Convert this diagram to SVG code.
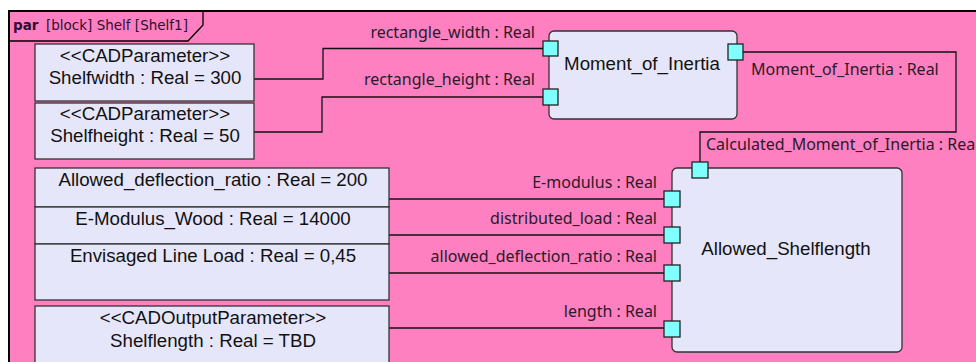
<svg xmlns="http://www.w3.org/2000/svg" width="976" height="362" viewBox="0 0 976 362">
<style>
.frame{fill:#FF80C0;stroke:#000;stroke-width:2}
.box{fill:#E6E6FA;stroke:#333;stroke-width:1.3}
.blk{fill:#E6E6FA;stroke:#333;stroke-width:1.3}
.port{fill:#80FFFF;stroke:#222;stroke-width:1.3}
.wire{fill:none;stroke:#111;stroke-width:1.3}
.t{font-family:"Liberation Sans",Arial,sans-serif;font-size:18.7px;fill:#111;text-anchor:middle}
.l{font-family:"Noto Sans","Open Sans",sans-serif;font-size:16px;fill:#2a1a2a}
.h{font-family:"DejaVu Sans","Noto Sans",sans-serif;font-size:13.5px;fill:#2a1030}
</style>
<rect width="976" height="362" fill="#fff"/>
<g id="frame">
<rect class="frame" x="9" y="11" width="980" height="370"/>
<path d="M9 41 H188 L203 25 V11" fill="none" stroke="#000" stroke-width="1.3"/>
<text class="h" x="13" y="30" font-weight="bold" font-size="15" fill="#000">par</text>
<text class="h" x="46" y="30">[block] Shelf [Shelf1]</text>
</g>
<g id="connectors">
<path class="wire" d="M254 79 H323 V48.5 H543"/>
<path class="wire" d="M254 132 H322 V97 H543"/>
<path class="wire" d="M743 52 H956 V132 H700 V162"/>
<path class="wire" d="M389 199 H664"/>
<path class="wire" d="M389 235 H664"/>
<path class="wire" d="M389 273 H664"/>
<path class="wire" d="M389 328 H664"/>
<text class="l" x="535" y="38" text-anchor="end">rectangle_width : Real</text>
<text class="l" x="535" y="85" text-anchor="end">rectangle_height : Real</text>
<text class="l" x="751" y="75">Moment_of_Inertia : Real</text>
<text class="l" x="706" y="150">Calculated_Moment_of_Inertia : Real</text>
<text class="l" x="657" y="188" text-anchor="end">E-modulus : Real</text>
<text class="l" x="657" y="224" text-anchor="end">distributed_load : Real</text>
<text class="l" x="657" y="262" text-anchor="end">allowed_deflection_ratio : Real</text>
<text class="l" x="657" y="317" text-anchor="end">length : Real</text>
</g>
<g id="shelfwidth">
<rect class="box" x="35" y="44" width="219" height="57"/>
<text class="t" x="145" y="62">&lt;&lt;CADParameter&gt;&gt;</text>
<text class="t" x="145" y="84">Shelfwidth : Real = 300</text>
</g>
<g id="shelfheight">
<rect class="box" x="35" y="103" width="219" height="56"/>
<text class="t" x="145" y="120">&lt;&lt;CADParameter&gt;&gt;</text>
<text class="t" x="145" y="142">Shelfheight : Real = 50</text>
</g>
<g id="allowed_deflection_ratio">
<rect class="box" x="35" y="168" width="354" height="39"/>
<text class="t" x="213" y="186">Allowed_deflection_ratio : Real = 200</text>
</g>
<g id="e_modulus_wood">
<rect class="box" x="35" y="207" width="354" height="37"/>
<text class="t" x="213" y="225">E-Modulus_Wood : Real = 14000</text>
</g>
<g id="envisaged_line_load">
<rect class="box" x="35" y="244" width="354" height="56"/>
<text class="t" x="213" y="262">Envisaged Line Load : Real = 0,45</text>
</g>
<g id="shelflength">
<rect class="box" x="35" y="306" width="354" height="70"/>
<text class="t" x="213" y="324">&lt;&lt;CADOutputParameter&gt;&gt;</text>
<text class="t" x="213" y="347">Shelflength : Real = TBD</text>
</g>
<g id="moment_of_inertia">
<rect class="blk" x="549" y="31" width="188" height="88" rx="5"/>
<text class="t" x="642" y="70">Moment_of_Inertia</text>
<rect class="port" x="543" y="41" width="15" height="15"/>
<rect class="port" x="543" y="89" width="15" height="16"/>
<rect class="port" x="728" y="44" width="15" height="16"/>
</g>
<g id="allowed_shelflength">
<rect class="blk" x="672" y="168" width="230" height="184" rx="5"/>
<text class="t" x="786" y="255">Allowed_Shelflength</text>
<rect class="port" x="692" y="162" width="16" height="16"/>
<rect class="port" x="664" y="191" width="16" height="16"/>
<rect class="port" x="664" y="227" width="16" height="16"/>
<rect class="port" x="664" y="265" width="16" height="16"/>
<rect class="port" x="664" y="321" width="16" height="16"/>
</g>
</svg>
